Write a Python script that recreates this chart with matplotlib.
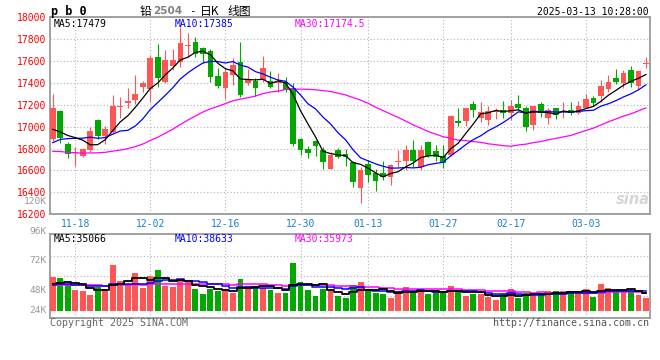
import matplotlib
matplotlib.use('Agg')
import matplotlib.pyplot as plt
from matplotlib.patches import Rectangle
import numpy as np

# ---------------- data ----------------
tick_labels = ['11-18', '12-02', '12-16', '12-30', '01-13', '01-27', '02-17', '03-03']
tick_index = [3, 13, 23, 33, 42, 52, 61, 71]

opens = [16890, 17145, 16845, 16762, 16731, 16783, 17059, 16912, 16952, 17180,
         17218, 17243, 17365, 17344, 17641, 17411, 17555, 17595, 17740, 17775,
         17717, 17696, 17463, 17350, 17472, 17595, 17400, 17420, 17432, 17417,
         17396, 17411, 17350, 16884, 16798, 16866, 16790, 16609, 16790, 16753,
         16682, 16437, 16661, 16575, 16575, 16544, 16680, 16685, 16783, 16630,
         16860, 16774, 16728, 16740, 17053, 17053, 17206, 17083, 17059, 17135,
         17151, 17126, 17212, 17175, 17013, 17206, 17083, 17175, 17138, 17157,
         17126, 17175, 17267, 17279, 17347, 17445, 17396, 17518, 17374, 17578]
highs = [17298, 17150, 16860, 16814, 16805, 16998, 17074, 17004, 17289, 17273,
         17350, 17472, 17420, 17656, 17757, 17702, 17708, 17916, 17855, 17825,
         17733, 17708, 17533, 17533, 17625, 17779, 17525, 17442, 17647, 17512,
         17488, 17457, 17396, 16900, 16820, 16881, 16814, 16768, 16808, 16800,
         16691, 16630, 16697, 16615, 16691, 16661, 16783, 16835, 16875, 16829,
         16869, 16829, 16835, 17110, 17175, 17175, 17233, 17227, 17187, 17175,
         17233, 17242, 17288, 17187, 17190, 17227, 17175, 17175, 17224, 17227,
         17236, 17295, 17279, 17426, 17472, 17524, 17518, 17555, 17518, 17635]
lows = [16870, 16850, 16716, 16640, 16722, 16768, 16884, 16845, 16936, 17083,
        17175, 17212, 17319, 17227, 17365, 17396, 17518, 17549, 17641, 17641,
        17580, 17411, 17350, 17258, 17380, 17273, 17380, 17279, 17411, 17350,
        17319, 17319, 16820, 16743, 16716, 16728, 16615, 16609, 16716, 16640,
        16446, 16299, 16498, 16409, 16514, 16464, 16630, 16600, 16630, 16600,
        16722, 16690, 16624, 16730, 17004, 17004, 17090, 17043, 17013, 17074,
        17083, 17065, 17151, 16961, 16973, 17090, 17028, 17074, 17080, 17105,
        17120, 17175, 17187, 17227, 17319, 17390, 17350, 17365, 17340, 17540]
closes = [17175, 16900, 16752, 16768, 16792, 16958, 16912, 16976, 17187, 17190,
          17236, 17298, 17402, 17625, 17442, 17610, 17610, 17769, 17750, 17662,
          17662, 17451, 17374, 17503, 17564, 17289, 17430, 17356, 17534, 17365,
          17411, 17334, 16838, 16783, 16758, 16820, 16676, 16737, 16722, 16722,
          16498, 16600, 16563, 16507, 16538, 16652, 16685, 16783, 16685, 16783,
          16728, 16722, 16667, 17095, 17034, 17175, 17151, 17135, 17145, 17139,
          17126, 17187, 17175, 16998, 17187, 17126, 17157, 17111, 17142, 17126,
          17187, 17258, 17218, 17371, 17408, 17408, 17494, 17396, 17509, 17582]
volumes = [67800, 65800, 52500, 41200, 39700, 31200, 47200, 43200, 91100, 59200,
           53200, 75800, 45900, 69600, 81100, 49700, 47900, 63200, 56700, 43200,
           33200, 43900, 39900, 42200, 36200, 63200, 50200, 49700, 46200, 41900,
           35200, 35200, 95700, 57200, 41200, 29700, 44200, 39700, 29300, 25900,
           51200, 57800, 41200, 34700, 33900, 25900, 39900, 47900, 36700, 43200,
           33200, 37900, 35900, 49900, 36700, 29900, 33200, 33900, 27300, 21300,
           33200, 43200, 25900, 34700, 31200, 34700, 39200, 39200, 36700, 36700,
           39200, 43200, 27900, 53200, 44700, 41200, 36700, 41200, 31200, 25900]
# closes / volumes of the 29 sessions before the window (for the moving averages)
prior_closes = [16950, 16980, 16900, 16860, 16920, 16880, 16840, 16870, 16900, 16820,
                16760, 16690, 16620, 16560, 16520, 16500, 16480, 16540, 16560, 16560,
                16600, 16680, 16740, 16780, 16860, 17020, 16910, 16870, 16905]
prior_volumes = [55000, 60000, 48000, 52000, 58000, 47000, 50000, 62000, 45000, 53000,
                 49000, 56000, 51000, 47000, 60000, 54000, 48000, 50000, 52000, 49000,
                 52000, 47000, 55000, 46000, 49000, 50000, 45000, 54000, 48000]

price_ticks = [16200, 16400, 16600, 16800, 17000, 17200, 17400, 17600, 17800, 18000]
vol_labels = ['120K', '96K', '72K', '48K', '24K']

# ---------------- helpers ----------------
W, H = 660, 360
RED = '#ff5555'
GREEN = '#00a800'
GRID = '#b4b4b4'
SPINE = '#9a9a9a'
MONO = 'DejaVu Sans Mono'
CJK = ['Noto Sans CJK SC', 'DejaVu Sans']


def rect(l, t, r, b):
    return [l / W, 1 - b / H, (r - l) / W, (b - t) / H]


def ftxt(x, y, s, **kw):
    kw.setdefault('va', 'center')
    fig.text(x / W, 1 - y / H, s, **kw)


def mov(series, n, keep):
    s = np.asarray(series, dtype=float)
    out = np.convolve(s, np.ones(n) / n, mode='valid')
    return out[-keep:]


n = len(closes)
idx = np.arange(n)
up = [c >= o for o, c in zip(opens, closes)]
cols = [RED if u else GREEN for u in up]

all_c = prior_closes + closes
all_v = [v / 1000 for v in prior_volumes + volumes]
ma5 = mov(all_c, 5, n)
ma10 = mov(all_c, 10, n)
ma30 = mov(all_c, 30, n)
vma5 = mov(all_v, 5, n)
vma10 = mov(all_v, 10, n)
vma30 = mov(all_v, 30, n)
vol_k = [v / 1000 for v in volumes]

fig = plt.figure(figsize=(W / 100, H / 100), dpi=100)

XL = (-0.36, 79.47)

# ---------------- price panel ----------------
ax = fig.add_axes(rect(50, 17.4, 649.5, 214.2))
ax.set_xlim(*XL)
ax.set_ylim(16200, 18000)
ax.set_yticks(price_ticks)
ax.set_yticklabels([str(t) for t in price_ticks], family=MONO, fontsize=7, color='#ff0000')
ax.set_xticks(tick_index)
ax.set_xticklabels(tick_labels, family=MONO, fontsize=7, color='#1a80c4')
ax.tick_params(axis='both', length=0)
ax.tick_params(axis='y', pad=3)
ax.tick_params(axis='x', pad=3.2)
ax.grid(True, color=GRID, linestyle=(0, (1, 2)), linewidth=0.8)
ax.set_axisbelow(True)
for sp in ax.spines.values():
    sp.set_color(SPINE)
    sp.set_linewidth(1.3)

for i in range(n):
    ax.vlines(idx[i], lows[i], highs[i], color=cols[i], linewidth=0.8, zorder=3)
    lo = min(opens[i], closes[i])
    hgt = max(abs(closes[i] - opens[i]), 8)
    ax.add_patch(Rectangle((idx[i] - 0.38, lo), 0.76, hgt, facecolor=cols[i],
                           edgecolor='none', zorder=4))

ax.plot(idx, ma30, color='#ff00ff', linewidth=0.9, zorder=5)
ax.plot(idx, ma10, color='#0000ff', linewidth=0.9, zorder=5)
ax.plot(idx, ma5, color='#000000', linewidth=0.9, zorder=6)

# ---------------- volume panel ----------------
av = fig.add_axes(rect(50, 234.3, 649.5, 317.8))
av.set_xlim(*XL)
av.set_ylim(-14.2, 152.8)
av.set_yticks([30, 70, 110])
av.set_xticks(tick_index)
av.set_xticklabels([])
av.set_yticklabels([])
av.tick_params(axis='both', length=0)
av.grid(True, color=GRID, linestyle=(0, (1, 2)), linewidth=0.8)
av.set_axisbelow(True)
for sp in av.spines.values():
    sp.set_color(SPINE)
    sp.set_linewidth(1.3)
av.bar(idx, vol_k, width=0.78, color=cols, zorder=3)
av.plot(idx, vma30, color='#ff00ff', linewidth=1.1, drawstyle='steps-mid', zorder=4)
av.plot(idx, vma10, color='#0000ff', linewidth=1.1, drawstyle='steps-mid', zorder=4)
av.plot(idx, vma5, color='#000000', linewidth=1.3, drawstyle='steps-mid', zorder=5)

# ---------------- texts ----------------
ftxt(51, 11, 'p b 0', family=MONO, fontweight='bold', fontsize=8.5, ha='left')
ftxt(140, 11, '铅', family=CJK, fontsize=8.5, ha='left')
ftxt(153, 11.5, '2504', family='DejaVu Sans', fontsize=7.5, color='#808080', ha='left', fontweight='bold')
ftxt(189, 11, '-', family=MONO, fontsize=8, ha='left')
ftxt(200, 11, '日K', family=CJK, fontsize=8.5, ha='left')
ftxt(227, 11, '线图', family=CJK, fontsize=8.5, ha='left')
ftxt(649, 12, '2025-03-13 10:28:00', family=MONO, fontsize=7, ha='right')

ftxt(54, 24, 'MA5:17479', family=MONO, fontsize=7, ha='left', color='#000000')
ftxt(175, 24, 'MA10:17385', family=MONO, fontsize=7, ha='left', color='#0000ff')
ftxt(295, 24, 'MA30:17174.5', family=MONO, fontsize=7, ha='left', color='#ff00ff')

ftxt(54, 239.5, 'MA5:35066', family=MONO, fontsize=7, ha='left', color='#000000')
ftxt(175, 239.5, 'MA10:38633', family=MONO, fontsize=7, ha='left', color='#0000ff')
ftxt(295, 239.5, 'MA30:35973', family=MONO, fontsize=7, ha='left', color='#ff00ff')

for lab, yy in zip(vol_labels, [201.5, 231, 260.7, 290.5, 310.5]):
    ftxt(47, yy, lab, family=MONO, fontsize=6.8, ha='right', color='#999999')

ftxt(50, 323.5, 'Copyright 2025 SINA.COM', family=MONO, fontsize=7.2, ha='left', color='#666666')
ftxt(649, 323.5, 'http://finance.sina.com.cn', family=MONO, fontsize=7.2, ha='right', color='#555555')

ftxt(650, 200, 'sina', family='DejaVu Sans', fontsize=10.5, fontstyle='italic',
     fontweight='bold', ha='right', color='#d6d6d6')

fig.savefig('out.png', dpi=100)
